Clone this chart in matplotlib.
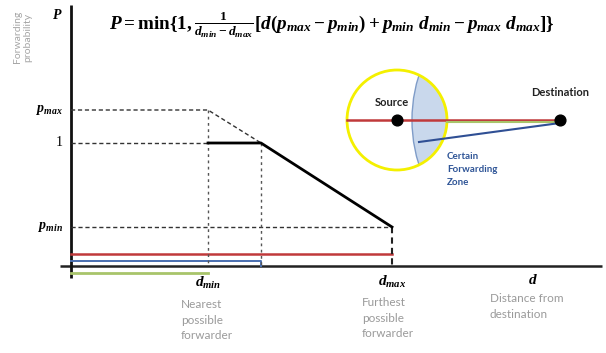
import matplotlib
matplotlib.use("Agg")
import matplotlib.pyplot as plt
from matplotlib.patches import Circle

plt.rcParams['mathtext.fontset'] = 'custom'
plt.rcParams['mathtext.rm'] = 'Liberation Serif:bold'
plt.rcParams['mathtext.it'] = 'Liberation Serif:bold:italic'
plt.rcParams['mathtext.bf'] = 'Liberation Serif:bold'

# schematic values (diagram units, origin where the axes cross)
d_min = 137
d_knee = 190
d_max = 321
d_end = 462
p_max = 156
p_one = 123
p_min = 39
curve_d = [d_min, d_knee, d_max]
curve_p = [p_one, p_one, p_min]
tick_names = [r'$p_{max}$', '1', r'$p_{min}$']
tick_vals = [p_max, p_one, p_min]

# inset: source / destination geometry
src = (326, 146)
src_r = 50
dst = (489, 146)
zone_r = 148
blue_start = (348, 124)

fig = plt.figure(figsize=(6.06, 3.53), dpi=100)
ax = fig.add_axes([0, 0, 1, 1])
ax.set_xlim(-71, 535)
ax.set_ylim(-87, 266)
ax.axis('off')

# axes lines
ax.plot([-11, 531], [0, 0], color='#222222', lw=1.8, solid_capstyle='butt')
ax.plot([0, 0], [-12, 261], color='#111111', lw=2, solid_capstyle='butt')

# coloured range bars
ax.plot([0, d_max], [12, 12], color='#c0393b', lw=1.8)
ax.plot([0, d_knee, d_knee], [5, 5, 0], color='#4a6fb0', lw=1.4)
ax.plot([0, d_min], [-7, -7], color='#a8c46a', lw=2)

# guide lines
dash = dict(color='#333333', lw=1, ls=(0, (3, 2)))
ax.plot([0, d_min, d_knee], [p_max, p_max, p_one], **dash)
ax.plot([0, d_min], [p_one, p_one], **dash)
ax.plot([0, d_max], [p_min, p_min], **dash)
dot = dict(color='#555555', lw=1, ls=(0, (2, 2.5)))
ax.plot([d_min, d_min], [p_max, 0], **dot)
ax.plot([d_knee, d_knee], [p_one, 0], **dot)
ax.plot([d_max, d_max], [p_min, 0], color='#222222', lw=1.5, ls=(0, (3, 2)))

# forwarding probability curve
ax.plot(curve_d, curve_p, color='black', lw=2)

# tick labels
for name, v in zip(tick_names, tick_vals):
    ax.text(-8, v, name, ha='right', va='center', fontsize=10,
            family='Liberation Serif')
ax.text(d_min, -17, r'$d_{min}$', ha='center', va='center', fontsize=11)
ax.text(d_max, -16, r'$d_{max}$', ha='center', va='center', fontsize=11)
ax.text(d_end, -14, r'$d$', ha='center', va='center', fontsize=11)
ax.text(-14, 251, r'$P$', ha='center', va='center', fontsize=10)

grey = '#9a9a9a'
ax.text(d_min - 27, -33, 'Nearest\npossible\nforwarder', ha='left', va='top',
        fontsize=8.5, color=grey, family='Lato', linespacing=1.5)
ax.text(d_max - 30, -31, 'Furthest\npossible\nforwarder', ha='left', va='top',
        fontsize=8.5, color=grey, family='Lato', linespacing=1.5)
ax.text(d_end - 43, -27, 'Distance from\ndestination', ha='left', va='top',
        fontsize=8.5, color=grey, family='Lato', linespacing=1.5)
ax.text(-48, 229, 'Forwarding\nprobability', rotation=90, ha='center', va='center',
        fontsize=7.5, color='#a5a5a5', family='Lato', linespacing=1.2)

# formula
ax.text(261, 241,
        r'$P = \min\{1, \frac{1}{d_{min} - d_{max}}[d(p_{max} - p_{min}) + p_{min}\ d_{min} - p_{max}\ d_{max}]\}$',
        ha='center', va='center', fontsize=13.8)

# inset: certain forwarding zone
yc = Circle(src, src_r, fill=False, ec='none')
ax.add_patch(yc)
zone = Circle(dst, zone_r, fc='#c9d8ec', ec='#7f9cc8', lw=1)
ax.add_patch(zone)
zone.set_clip_path(yc)
ax.plot([src[0] - src_r, dst[0]], [src[1], dst[1]], color='#c0393b', lw=1.8)
ax.plot([src[0] + src_r, dst[0]], [src[1] - 2, dst[1] - 2], color='#a8c46a', lw=1.5)
ax.plot([blue_start[0], dst[0]], [blue_start[1], dst[1] - 3], color='#2f4f94', lw=1.5)
ax.add_patch(Circle(src, src_r, fill=False, ec='#f4f000', lw=2))
ax.scatter([src[0], dst[0]], [src[1], dst[1]], s=60, color='black', zorder=5)
ax.text(src[0] - 5, src[1] + 17, 'Source', ha='center', va='center',
        fontsize=8, family='Lato', fontweight='bold', color='#222222')
ax.text(dst[0], src[1] + 27, 'Destination', ha='center', va='center',
        fontsize=8, family='Lato', fontweight='bold', color='#222222')
ax.text(376, 114, 'Certain\nForwarding\nZone', ha='left', va='top',
        fontsize=7, family='Lato', fontweight='bold', color='#2f5597', linespacing=1.6)

fig.savefig('out.png', dpi=100)
